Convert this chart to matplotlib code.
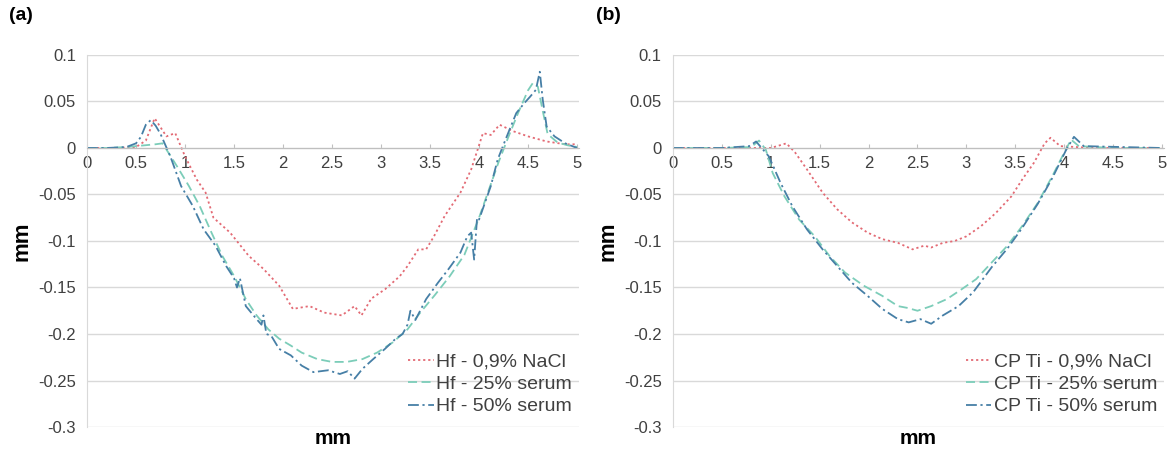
import matplotlib

matplotlib.use("Agg")
import matplotlib.pyplot as plt

plt.rcParams["font.family"] = ["Liberation Sans", "DejaVu Sans"]

# ---- panel (a): Hf ----
hf_nacl_x = [0, 0.3, 0.5, 0.6, 0.69, 0.81, 0.9, 1.0, 1.12, 1.21, 1.29, 1.46, 1.65, 1.8, 1.96,
             2.1, 2.27, 2.42, 2.6, 2.73, 2.8, 2.9, 3.04, 3.19, 3.27, 3.38, 3.46, 3.54, 3.65,
             3.81, 3.92, 4.04, 4.12, 4.21, 4.35, 4.5, 4.69, 4.88, 5.0]
hf_nacl_y = [0, 0, 0.001, 0.008, 0.032, 0.0125, 0.016, -0.009, -0.034, -0.048, -0.075, -0.091,
             -0.116, -0.13, -0.148, -0.173, -0.17, -0.177, -0.18, -0.17, -0.18, -0.162, -0.152,
             -0.138, -0.127, -0.109, -0.109, -0.095, -0.073, -0.048, -0.023, 0.016, 0.014,
             0.025, 0.018, 0.0125, 0.007, 0.004, 0.004]

hf_s25_x = [0, 0.2, 0.4, 0.5, 0.6, 0.7, 0.77, 0.92, 1.04, 1.15, 1.27, 1.38, 1.5, 1.62, 1.73,
            1.85, 1.96, 2.08, 2.19, 2.35, 2.5, 2.65, 2.81, 2.96, 3.12, 3.27, 3.4, 3.55, 3.7,
            3.85, 4.0, 4.1, 4.2, 4.3, 4.4, 4.5, 4.55, 4.6, 4.65, 4.7, 4.8, 4.9, 5.0]
hf_s25_y = [0, 0, 0.001, 0.002, 0.003, 0.004, 0.005, -0.02, -0.041, -0.0625, -0.091, -0.116,
            -0.1375, -0.1625, -0.18, -0.195, -0.205, -0.2125, -0.22, -0.227, -0.23, -0.23,
            -0.227, -0.22, -0.209, -0.195, -0.177, -0.158, -0.138, -0.115, -0.075, -0.045,
            -0.015, 0.012, 0.038, 0.062, 0.07, 0.066, 0.04, 0.015, 0.006, 0.003, 0.001]

hf_s50_x = [0, 0.2, 0.4, 0.5, 0.55, 0.6, 0.65, 0.7, 0.75, 0.85, 0.96, 1.08, 1.19, 1.31, 1.42,
            1.5, 1.53, 1.56, 1.62, 1.73, 1.78, 1.8, 1.83, 1.88, 1.96, 2.08, 2.19, 2.31, 2.46,
            2.58, 2.66, 2.73, 2.81, 2.92, 3.04, 3.15, 3.22, 3.27, 3.3, 3.35, 3.46, 3.58, 3.69,
            3.81, 3.88, 3.92, 3.95, 3.98, 4.0, 4.12, 4.19, 4.27, 4.38, 4.46, 4.52, 4.58, 4.62,
            4.65, 4.69, 4.77, 4.88, 5.0]
hf_s50_y = [0, 0, 0.001, 0.005, 0.012, 0.025, 0.03, 0.024, 0.015, -0.009, -0.041, -0.0625,
            -0.0875, -0.105, -0.127, -0.14, -0.15, -0.14, -0.17, -0.184, -0.19, -0.18, -0.2,
            -0.202, -0.216, -0.223, -0.234, -0.241, -0.239, -0.243, -0.24, -0.248, -0.2375,
            -0.227, -0.216, -0.205, -0.2, -0.19, -0.175, -0.185, -0.1625, -0.145, -0.13,
            -0.1125, -0.095, -0.091, -0.12, -0.075, -0.077, -0.041, -0.0125, 0.009, 0.0375,
            0.048, 0.055, 0.0625, 0.082, 0.052, 0.023, 0.0125, 0.005, 0.0]

# ---- panel (b): CP Ti ----
ti_nacl_x = [0, 0.5, 1.0, 1.16, 1.25, 1.37, 1.53, 1.68, 1.83, 1.99, 2.14, 2.3, 2.45, 2.57,
             2.64, 2.76, 2.88, 3.0, 3.15, 3.3, 3.46, 3.57, 3.69, 3.8, 3.86, 3.96, 4.3, 5.0]
ti_nacl_y = [0, 0, 0, 0.005, -0.005, -0.023, -0.048, -0.066, -0.08, -0.091, -0.098, -0.102,
             -0.109, -0.105, -0.107, -0.102, -0.1, -0.095, -0.084, -0.07, -0.052, -0.034,
             -0.016, 0.005, 0.011, 0.002, 0, 0]

ti_s25_x = [0, 0.5, 0.8, 0.88, 0.95, 1.02, 1.14, 1.29, 1.45, 1.6, 1.76, 1.95, 2.14, 2.3, 2.4,
            2.5, 2.64, 2.8, 2.95, 3.1, 3.26, 3.42, 3.57, 3.73, 3.88, 4.0, 4.07, 4.15, 4.5, 5.0]
ti_s25_y = [0, 0, 0.001, 0.008, -0.002, -0.027, -0.052, -0.077, -0.095, -0.116, -0.134,
            -0.148, -0.159, -0.17, -0.172, -0.175, -0.17, -0.1625, -0.152, -0.141, -0.123,
            -0.105, -0.084, -0.059, -0.03, -0.005, 0.009, 0.002, 0.0, 0.0]

ti_s50_x = [0, 0.5, 0.78, 0.85, 0.98, 1.1, 1.22, 1.37, 1.53, 1.68, 1.83, 1.99, 2.14, 2.3,
            2.41, 2.53, 2.64, 2.76, 2.92, 3.07, 3.26, 3.42, 3.57, 3.73, 3.88, 4.02, 4.1, 4.2,
            5.0]
ti_s50_y = [0, 0, 0.002, 0.007, -0.009, -0.0375, -0.0625, -0.0875, -0.109, -0.127, -0.145,
            -0.159, -0.173, -0.184, -0.1875, -0.184, -0.189, -0.18, -0.17, -0.155, -0.128,
            -0.108, -0.086, -0.06, -0.032, -0.002, 0.012, 0.002, 0.0]

hf_labels = ["Hf - 0,9% NaCl", "Hf - 25% serum", "Hf - 50% serum"]
ti_labels = ["CP Ti - 0,9% NaCl", "CP Ti - 25% serum", "CP Ti - 50% serum"]
y_ticks = [0.1, 0.05, 0, -0.05, -0.1, -0.15, -0.2, -0.25, -0.3]
y_tick_labels = ["0.1", "0.05", "0", "-0.05", "-0.1", "-0.15", "-0.2", "-0.25", "-0.3"]
x_ticks = [0, 0.5, 1, 1.5, 2, 2.5, 3, 3.5, 4, 4.5, 5]
x_tick_labels = ["0", "0.5", "1", "1.5", "2", "2.5", "3", "3.5", "4", "4.5", "5"]

colors = ["#e36a74", "#7ccdb9", "#467fa6"]
styles = [(0, (1.2, 1.6)), (0, (5, 2.5)), (0, (6, 2, 1.2, 2))]
text_color = "#404040"


def style_axes(ax):
    ax.set_xlim(0, 5.02)
    ax.set_ylim(-0.3, 0.1)
    ax.set_yticks(y_ticks)
    ax.set_yticklabels(y_tick_labels)
    ax.set_xticks(x_ticks)
    ax.set_xticklabels(x_tick_labels)
    ax.grid(axis="y", color="#d9d9d9", linewidth=1.0)
    ax.set_axisbelow(True)
    for side in ("top", "right"):
        ax.spines[side].set_visible(False)
    ax.spines["left"].set_color("#d9d9d9")
    ax.spines["bottom"].set_position(("data", 0))
    ax.spines["bottom"].set_color("#bfbfbf")
    ax.tick_params(axis="y", length=0, labelsize=12, labelcolor=text_color, pad=8)
    ax.tick_params(axis="x", length=3, direction="in", color="#bfbfbf",
                   labelsize=12, labelcolor=text_color, pad=6)


fig = plt.figure(figsize=(11.73, 4.5), dpi=100)
ax_a = fig.add_axes([0.0742, 0.0511, 0.4194, 0.8267])
ax_b = fig.add_axes([0.5737, 0.0511, 0.4186, 0.8267])

panels = [
    (ax_a, [(hf_nacl_x, hf_nacl_y), (hf_s25_x, hf_s25_y), (hf_s50_x, hf_s50_y)], hf_labels, "(a)", 0.008),
    (ax_b, [(ti_nacl_x, ti_nacl_y), (ti_s25_x, ti_s25_y), (ti_s50_x, ti_s50_y)], ti_labels, "(b)", 0.508),
]

for ax, series, labels, tag, tag_x in panels:
    style_axes(ax)
    for (xs, ys), label, color, ls in zip(series, labels, colors, styles):
        ax.plot(xs, ys, color=color, linestyle=ls, linewidth=1.3, label=label)
    ax.legend(loc="lower right", bbox_to_anchor=(1.01, 0.0), frameon=False, fontsize=14,
              handlelength=1.3, handletextpad=0.15, labelspacing=0.25, borderaxespad=0.2,
              labelcolor=text_color)
    ax.set_ylabel("mm", fontsize=16, fontweight="bold", color="black", labelpad=4)
    ax.text(0.5, -0.032, "mm", transform=ax.transAxes, ha="center", va="center",
            fontsize=15, fontweight="bold")
    fig.text(tag_x, 0.965, tag, fontsize=14, fontweight="bold", ha="left", va="center")

fig.savefig("out.png", dpi=100)
